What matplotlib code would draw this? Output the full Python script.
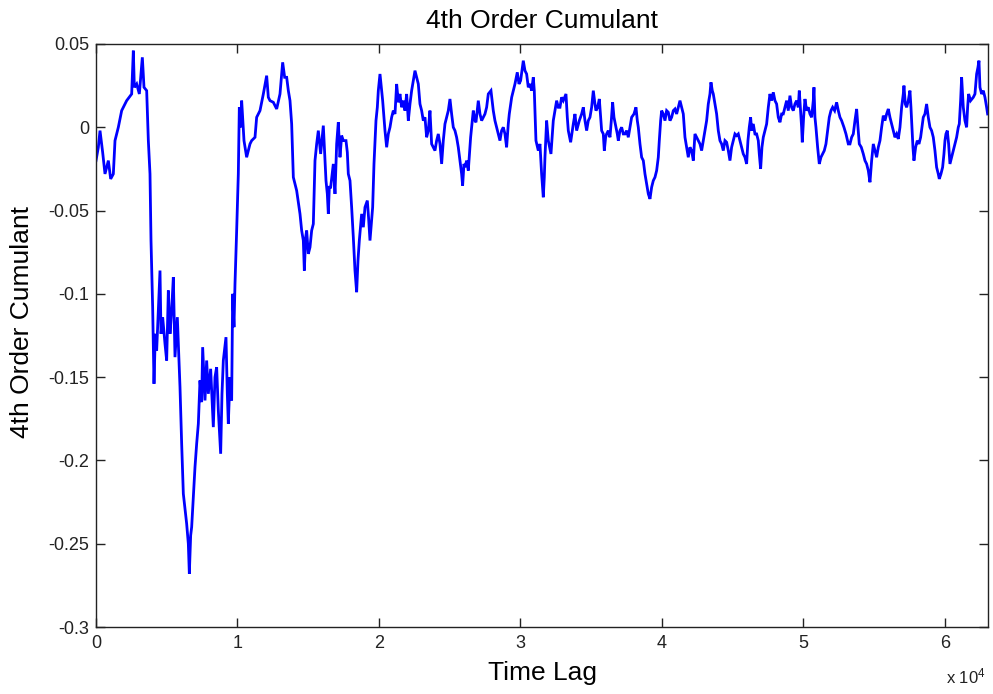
import matplotlib
matplotlib.use("Agg")
import matplotlib.pyplot as plt
from matplotlib.ticker import FixedLocator, FixedFormatter

plt.rcParams["font.family"] = ["Liberation Sans", "DejaVu Sans"]
plt.rcParams["mathtext.default"] = "regular"

# Time lag (samples) and the estimated 4th order cumulant at that lag
lag = [
    0, 165, 283, 470, 636, 872, 1037, 1225, 1343, 1578, 1814, 2167, 2521, 2638, 2710,
    2874, 3063, 3275, 3392, 3581, 3699, 3816, 3887, 4004, 4099, 4193, 4287, 4405, 4523,
    4594, 4711, 4876, 4994, 5112, 5230, 5347, 5465, 5583, 5748, 5936, 6054, 6172, 6407,
    6525, 6596, 6690, 6761, 6878, 6996, 7114, 7232, 7349, 7467, 7538, 7703, 7820, 7938,
    8103, 8291, 8409, 8527, 8645, 8810, 8904, 8998, 9187, 9281, 9351, 9469, 9587, 9658,
    9752, 9823, 9941, 10058, 10129, 10223, 10294, 10459, 10647, 10883,
    11001, 11237, 11354, 11590, 11826, 12061, 12179, 12297, 12532, 12768, 13003, 13192,
    13333, 13475, 13593, 13710, 13828, 13946, 14063, 14181, 14417, 14535, 14652, 14723,
    14817, 14888, 15006, 15124, 15241, 15359, 15477, 15595, 15712, 15877, 16065, 16183,
    16254, 16348, 16419, 16489, 16584, 16772, 16890, 17008, 17125, 17243, 17361, 17479,
    17667, 17761, 17832, 17950, 18067, 18185, 18303, 18421, 18515, 18609, 18774, 18892,
    19010, 19175, 19269, 19363, 19481, 19552, 19646, 19787, 19882, 19952, 20070, 20188,
    20259, 20423, 20541, 20659, 20777, 20894, 21012, 21130, 21248,
    21365, 21483, 21601, 21719, 21836, 21954, 22072, 22190, 22307, 22425, 22543, 22661,
    22778, 22896, 23014, 23131, 23249, 23367, 23485, 23602, 23720, 23838, 23956, 24073,
    24191, 24309, 24427, 24544, 24662, 24780, 24898, 25015, 25133, 25251, 25369, 25486,
    25604, 25722, 25840, 25910, 26005, 26076, 26193, 26311, 26476, 26664, 26782, 26853,
    27018, 27136, 27254, 27371, 27489, 27607, 27725, 27913, 28077, 28195, 28313, 28431,
    28548, 28666, 28784, 28902, 29019, 29137, 29208, 29377, 29491, 29609, 29774, 29892,
    30009, 30198, 30316, 30433, 30551, 30669, 30787, 30904, 30975, 31046, 31093, 31258,
    31375, 31493, 31611, 31682, 31729, 31847,
    31965, 32153, 32318, 32436, 32554, 32672, 32789, 32907, 33025, 33214, 33308, 33379,
    33544, 33732, 33850, 33968, 34157, 34321, 34439, 34557, 34675, 34792, 34910, 35028,
    35146, 35263, 35334, 35452, 35570, 35664, 35735, 35852, 35923, 36017, 36088, 36206,
    36323, 36418, 36512, 36606, 36748, 36842, 36913, 37030, 37148, 37266, 37384, 37501,
    37619, 37737, 37855, 38020, 38161, 38256, 38326, 38444, 38562, 38680, 38797, 38915,
    39033, 39151, 39268, 39386, 39504, 39622, 39739, 39810, 39905, 39975, 40093, 40211,
    40329, 40446, 40564, 40682, 40800, 40917, 41035, 41153, 41271, 41388, 41506, 41624,
    41742, 41859, 41977, 42095, 42213,
    42330, 42448, 42566, 42684, 42801, 42919, 43037, 43155, 43272, 43390, 43461, 43555,
    43626, 43744, 43861, 43979, 44097, 44215, 44332, 44450, 44568, 44686, 44803, 44921,
    45039, 45157, 45274, 45392, 45510, 45628, 45745, 45863, 45981, 46075, 46169, 46264,
    46335, 46452, 46570, 46688, 46806, 46876, 46971, 47065, 47159, 47277, 47395, 47513,
    47630, 47748, 47866, 47984, 48101, 48219, 48337, 48455, 48572, 48690, 48808, 48926,
    49043, 49161, 49279, 49397, 49514, 49632, 49703, 49797, 49868, 49915, 50009, 50104,
    50221, 50339, 50457, 50575, 50692, 50740, 50810, 50881, 50999, 51117, 51234, 51352,
    51470, 51588, 51706, 51823, 51941, 52059, 52200, 52342, 52460, 52578, 52695, 52860,
    53002, 53167,
    53285, 53403, 53520, 53638, 53756, 53850, 53944, 54086, 54227, 54345, 54463, 54581,
    54698, 54816, 54934, 55052, 55169, 55287, 55405, 55523, 55640, 55758, 55876, 55994,
    56111, 56229, 56347, 56465, 56582, 56700, 56818, 56936, 57053, 57100, 57194, 57289,
    57406, 57524, 57595, 57666, 57736, 57807, 57925, 58042, 58160, 58278, 58372, 58466,
    58584, 58702, 58820, 58937, 59055, 59173, 59291, 59408, 59526, 59597, 59715, 59833,
    59927, 59998, 60068, 60162, 60257, 60351, 60469, 60587, 60705, 60822, 60940, 61011,
    61105, 61176, 61294, 61411, 61529, 61600, 61670, 61812, 62001, 62118, 62236, 62330,
    62401, 62472, 62590, 62707, 62825, 62943, 63013,
]

cumulant = [
    -0.020, -0.012, -0.002, -0.015, -0.028, -0.020, -0.031, -0.028, -0.008, 0.000, 0.010,
    0.016, 0.020, 0.046, 0.024, 0.026, 0.020, 0.042, 0.024, 0.022, -0.008, -0.028, -0.068,
    -0.108, -0.154, -0.124, -0.134, -0.110, -0.086, -0.124, -0.114, -0.130, -0.140, -0.098,
    -0.124, -0.110, -0.090, -0.138, -0.114, -0.156, -0.190, -0.220, -0.238, -0.250, -0.268,
    -0.245, -0.240, -0.222, -0.204, -0.190, -0.178, -0.152, -0.165, -0.132, -0.164, -0.140,
    -0.160, -0.145, -0.180, -0.150, -0.144, -0.170, -0.196, -0.160, -0.140, -0.126, -0.160,
    -0.178, -0.150, -0.164, -0.100, -0.120, -0.094, -0.062, -0.028, 0.012, 0.000, 0.016,
    -0.008, -0.018, -0.010,
    -0.008, -0.006, 0.006, 0.010, 0.020, 0.031, 0.018, 0.016, 0.015, 0.011, 0.020, 0.039,
    0.030, 0.030, 0.022, 0.016, 0.002, -0.030, -0.034, -0.038, -0.052, -0.062, -0.068,
    -0.086, -0.066, -0.062, -0.076, -0.072, -0.062, -0.058, -0.020, -0.010, -0.002, -0.016,
    0.001, -0.020, -0.032, -0.040, -0.052, -0.036, -0.036, -0.022, -0.040, -0.010, 0.003,
    -0.018, -0.005, -0.008, -0.008, -0.015, -0.028, -0.032, -0.048, -0.066, -0.086, -0.099,
    -0.080, -0.068, -0.052, -0.060, -0.048, -0.044, -0.055, -0.068, -0.055, -0.048, -0.022,
    0.004, 0.012, 0.022, 0.032, 0.022, 0.016, -0.002, -0.012, -0.004, 0.000, 0.006, 0.010,
    0.008, 0.026,
    0.015, 0.020, 0.012, 0.016, 0.010, 0.020, 0.004, 0.014, 0.022, 0.028, 0.034, 0.030,
    0.026, 0.014, 0.010, 0.004, 0.006, -0.006, -0.002, 0.010, -0.010, -0.012, -0.014,
    -0.008, -0.004, -0.010, -0.022, -0.008, 0.002, 0.006, 0.010, 0.017, 0.008, 0.000,
    -0.002, -0.006, -0.012, -0.020, -0.028, -0.035, -0.022, -0.024, -0.020, -0.026, -0.006,
    0.010, 0.004, 0.003, 0.016, 0.008, 0.004, 0.006, 0.008, 0.012, 0.020, 0.022, 0.010,
    0.004, 0.000, -0.004, -0.008, -0.002, 0.000, -0.004, -0.012, 0.002, 0.008, 0.018,
    0.022, 0.026, 0.033, 0.026, 0.028, 0.040, 0.034, 0.032, 0.024, 0.026, 0.022, 0.030,
    0.022, 0.005, -0.008, -0.014, -0.010, -0.028, -0.042, -0.030, -0.018, 0.004,
    -0.008, -0.016, 0.004, 0.010, 0.016, 0.012, 0.012, 0.018, 0.016, 0.020, 0.006, -0.002,
    -0.009, 0.002, 0.008, -0.002, 0.004, 0.008, 0.012, 0.004, -0.002, 0.004, 0.006, 0.012,
    0.022, 0.014, 0.010, 0.012, 0.017, 0.006, -0.002, -0.004, -0.014, -0.006, -0.004,
    -0.002, -0.006, 0.004, 0.015, 0.006, 0.000, -0.004, -0.008, -0.002, 0.000, -0.004,
    -0.004, -0.002, -0.006, 0.000, 0.006, 0.008, 0.012, 0.004, 0.000, -0.010, -0.018,
    -0.020, -0.028, -0.034, -0.040, -0.043, -0.036, -0.032, -0.030, -0.026, -0.018, -0.008,
    0.004, 0.010, 0.008, 0.004, 0.010, 0.009, 0.004, 0.006, 0.010, 0.011, 0.008, 0.012,
    0.016, 0.012, 0.008, -0.006, -0.012, -0.018, -0.012, -0.014, -0.020,
    -0.004, -0.006, -0.008, -0.010, -0.014, -0.008, -0.002, 0.004, 0.014, 0.020, 0.027,
    0.022, 0.020, 0.014, 0.008, -0.002, -0.008, -0.010, -0.014, -0.008, -0.009, -0.014,
    -0.020, -0.012, -0.008, -0.004, -0.005, -0.004, -0.008, -0.012, -0.016, -0.018,
    -0.022, -0.008, 0.000, 0.006, -0.002, 0.002, -0.004, -0.004, -0.008, -0.016, -0.025,
    -0.012, -0.006, -0.002, 0.002, 0.012, 0.020, 0.016, 0.021, 0.016, 0.014, 0.006, 0.003,
    0.008, 0.008, 0.012, 0.016, 0.010, 0.019, 0.012, 0.010, 0.014, 0.016, 0.012, 0.022,
    0.010, 0.000, -0.009, 0.006, 0.017, 0.010, 0.012, 0.008, 0.006, 0.016, 0.024, 0.006,
    0.000, -0.012, -0.022, -0.018, -0.016, -0.014, -0.010, -0.002, 0.006, 0.010, 0.012,
    0.010, 0.015, 0.010, 0.006, 0.004, 0.000, -0.004, -0.010,
    -0.010, -0.006, -0.004, 0.004, 0.011, 0.000, -0.010, -0.012, -0.016, -0.020, -0.022,
    -0.026, -0.033, -0.020, -0.010, -0.014, -0.018, -0.012, -0.008, 0.000, 0.007, 0.004,
    0.008, 0.011, 0.006, 0.002, -0.002, -0.006, -0.004, -0.007, 0.000, 0.012, 0.020, 0.025,
    0.014, 0.012, 0.016, 0.022, 0.012, 0.000, -0.012, -0.020, -0.012, -0.008, -0.010,
    -0.006, 0.000, 0.006, 0.008, 0.014, 0.006, 0.000, -0.002, -0.006, -0.014, -0.024,
    -0.028, -0.031, -0.028, -0.024, -0.016, -0.008, -0.004, -0.002, -0.010, -0.022, -0.018,
    -0.014, -0.010, -0.006, 0.000, 0.002, 0.016, 0.030, 0.012, 0.004, 0.000, 0.012, 0.020,
    0.016, 0.018, 0.020, 0.032, 0.036, 0.040, 0.024, 0.020, 0.022, 0.018, 0.012, 0.008,
]

x_ticks = [0, 10000, 20000, 30000, 40000, 50000, 60000]
x_tick_labels = ["0", "1", "2", "3", "4", "5", "6"]
y_ticks = [0.05, 0.0, -0.05, -0.1, -0.15, -0.2, -0.25, -0.3]
y_tick_labels = ["0.05", "0", "-0.05", "-0.1", "-0.15", "-0.2", "-0.25", "-0.3"]

W, H = 993, 694
fig = plt.figure(figsize=(W / 100, H / 100), dpi=100)
fig.patch.set_facecolor("white")

left, right, top, bottom = 96, 988, 44, 627
ax = fig.add_axes([left / W, 1 - bottom / H, (right - left) / W, (bottom - top) / H])

ax.plot(lag, cumulant, color="#0000ff", linewidth=2.0, solid_joinstyle="miter")

ax.set_xlim(0, 63040)
ax.set_ylim(-0.3, 0.05)
ax.xaxis.set_major_locator(FixedLocator(x_ticks))
ax.xaxis.set_major_formatter(FixedFormatter(x_tick_labels))
ax.yaxis.set_major_locator(FixedLocator(y_ticks))
ax.yaxis.set_major_formatter(FixedFormatter(y_tick_labels))

ax.tick_params(direction="in", length=6.5, width=1.0, top=True, right=True,
               labelsize=13, colors="#222222", pad=6)
ax.tick_params(axis="y", pad=5)
for sp in ax.spines.values():
    sp.set_linewidth(1.0)
    sp.set_color("#222222")

cx = (left + right) / 2 / W
fig.text(cx, 1 - 28 / H, "4th Order Cumulant", ha="center", va="baseline",
         fontsize=19, color="black")
fig.text(cx, 1 - 680 / H, "Time Lag", ha="center", va="baseline",
         fontsize=19, color="black")
fig.text(22 / W, 1 - 322 / H, "4th Order Cumulant", ha="center", va="center",
         rotation=90, fontsize=19, color="black")
fig.text(946 / W, 1 - 683 / H, r"x 10$^{4}$", ha="left", va="baseline",
         fontsize=12, color="#222222")

fig.savefig("out.png", dpi=100)
